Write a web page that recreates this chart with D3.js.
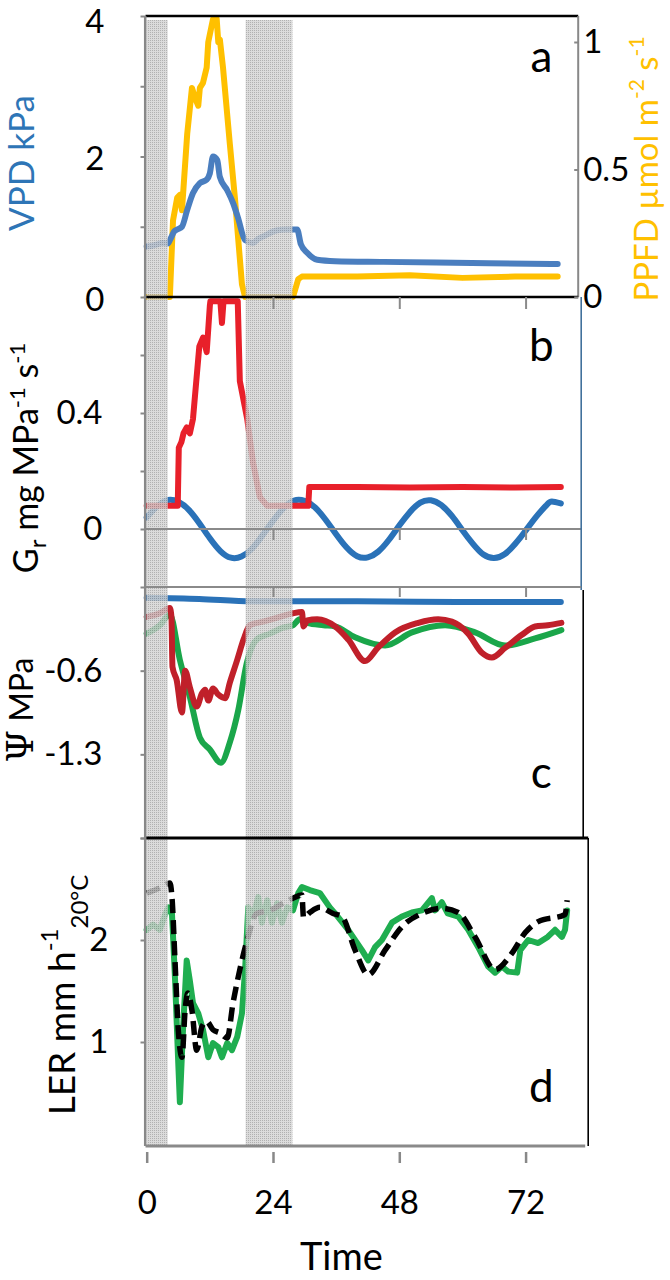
<!DOCTYPE html>
<html><head><meta charset="utf-8">
<script src="https://cdn.jsdelivr.net/npm/d3@7"></script>
<style>body{margin:0;background:#fff}svg{display:block}</style>
</head><body><svg id="c" width="670" height="1280"></svg>
<script>
// ---------- data ----------
const timeTicks = [0, 24, 48, 72];
const nightBands = [[0, 4], [18.8, 27.7]];
const vpdTicks = [0, 1, 2, 3, 4], vpdLabels = [0, 2, 4];
const ppfdTicks = [0, 0.5, 1];
const grTicks = [0, 0.2, 0.4, 0.6], grLabels = [0, 0.4];
const psiTicks = [0.1, -0.6, -1.3, -2.0], psiLabels = [-0.6, -1.3];
const lerTicks = [1, 2, 3], lerLabels = [1, 2];

// panel a: VPD (kPa) and PPFD
const vpd = [[0,0.72],[1,0.73],[2,0.75],[3,0.77],[4,0.76],[4.6,0.84],[5.2,0.93],[5.8,0.96],[6.7,1.0],[7.7,1.24],[8.8,1.48],[10.1,1.62],[11.4,1.67],[12.0,1.76],[12.6,2.0],[13.4,1.95],[13.9,1.71],[15.3,1.52],[16.4,1.34],[17.3,1.14],[18.7,0.81],[20.2,0.77],[21.2,0.83],[22.1,0.86],[24.8,0.95],[26.5,0.96],[28.6,0.96],[29.3,0.75],[30.5,0.63],[32.4,0.53],[35.8,0.51],[45,0.5],[55,0.49],[65,0.48],[78.1,0.47]];
const ppfd = [[0,0],[4.4,0],[5.0,0.3],[5.8,0.39],[6.3,0.4],[6.7,0.34],[7.7,0.64],[8.6,0.82],[9.2,0.78],[9.8,0.75],[10.1,0.82],[10.7,0.84],[11.4,0.9],[11.7,1.0],[12.0,1.03],[12.6,1.09],[13.3,1.09],[13.6,1.0],[13.9,1.01],[14.5,0.9],[15.8,0.6],[16.8,0.38],[17.3,0.25],[18.1,0.05],[18.7,0],[27.8,0],[28.8,0.07],[29.5,0.08],[40,0.08],[50,0.085],[60,0.075],[70,0.08],[78.1,0.08]];

// panel b: Gr
const grRed = [[0,0.08],[5.9,0.08],[6.1,0.28],[6.6,0.3],[7.0,0.33],[7.6,0.35],[8.2,0.33],[8.8,0.38],[10.0,0.63],[10.7,0.66],[11.4,0.61],[12.0,0.77],[12.1,0.785],[14.0,0.785],[14.3,0.71],[14.6,0.785],[17.3,0.785],[17.7,0.51],[19.1,0.38],[20.2,0.23],[21.5,0.11],[22.9,0.08],[30.7,0.08],[30.9,0.145],[40,0.145],[50,0.143],[60,0.145],[70,0.143],[78.7,0.145]];
const grBlue = [[0,0.04],[2,0.078],[4,0.1],[6,0.094],[8,0.066],[10,0.02],[12,-0.032],[14,-0.076],[16,-0.099],[18,-0.095],[20,-0.068],[22,-0.022],[24,0.028],[26,0.072],[28,0.098],[30,0.097],[32,0.074],[34,0.032],[36,-0.018],[38,-0.064],[40,-0.094],[42,-0.098],[44,-0.078],[46,-0.038],[48,0.012],[50,0.058],[52,0.091],[54,0.099],[56,0.082],[58,0.045],[60,-0.004],[62,-0.051],[64,-0.088],[66,-0.1],[68,-0.087],[70,-0.052],[72,-0.006],[74,0.042],[76,0.083],[77,0.095],[78.7,0.088]];

// panel c: Psi (MPa)
const psiBlue = [[0,0.01],[10,0.0],[20,-0.02],[40,-0.02],[60,-0.025],[78.7,-0.025]];
const psiRed = [[0,-0.15],[2.5,-0.12],[4.4,-0.076],[4.7,-0.15],[4.9,-0.57],[5.7,-0.68],[6.7,-0.95],[7.3,-0.6],[8.2,-0.74],[9.5,-0.9],[10.5,-0.79],[11.1,-0.76],[11.7,-0.85],[12.6,-0.75],[13.6,-0.8],[14.9,-0.83],[15.8,-0.7],[17.2,-0.51],[18.4,-0.34],[19.6,-0.22],[22.1,-0.19],[25.3,-0.15],[27.8,-0.12],[29.5,-0.11],[29.8,-0.23],[30.5,-0.18],[32.4,-0.17],[35.8,-0.23],[38.3,-0.34],[41.5,-0.52],[43.9,-0.41],[47.2,-0.28],[51.6,-0.2],[55.4,-0.17],[58,-0.19],[61.1,-0.29],[63.7,-0.45],[65.6,-0.49],[68.1,-0.41],[71.3,-0.3],[73.8,-0.23],[76.2,-0.22],[78.8,-0.2]];
const psiGreen = [[0,-0.29],[2.5,-0.22],[4.4,-0.13],[6.3,-0.51],[8.2,-0.82],[10.1,-1.16],[12,-1.26],[14.1,-1.37],[15.8,-1.2],[17.4,-0.93],[19.0,-0.54],[20.9,-0.34],[23.4,-0.29],[25.9,-0.24],[27.8,-0.22],[29.1,-0.17],[30.5,-0.2],[33.6,-0.22],[35.8,-0.23],[39.6,-0.32],[45.3,-0.39],[50.4,-0.28],[56.7,-0.22],[62.4,-0.28],[68.1,-0.39],[73.8,-0.33],[78.8,-0.26]];

// panel d: LER (mm h-1 at 20°C)
const lerModel = [[0,2.46],[2.5,2.51],[4.4,2.56],[4.8,2.42],[5.4,1.77],[6.0,1.12],[6.7,0.85],[7.3,1.31],[7.8,1.48],[8.6,1.31],[9.5,0.92],[10.5,1.15],[11.4,1.2],[12.6,1.12],[13.9,1.09],[15.3,1.04],[16.4,1.38],[17.7,1.71],[19.1,2.0],[20.9,2.26],[23.4,2.29],[25.9,2.36],[27.8,2.41],[29.5,2.44],[29.8,2.22],[31,2.27],[32.9,2.32],[35.4,2.26],[37.1,2.23],[39.6,1.9],[42.1,1.66],[45.3,1.9],[48.5,2.13],[52.3,2.26],[56.1,2.31],[59.2,2.27],[62.4,2.03],[66.2,1.71],[69.4,1.87],[71.9,2.07],[74.4,2.18],[79.5,2.25],[79.9,2.39]];
const lerObs = [[0,2.1],[1.2,2.15],[2.5,2.1],[3.5,2.25],[4.1,2.32],[4.8,2.26],[5.4,1.6],[6.0,0.79],[6.3,0.41],[6.9,1.12],[7.6,1.8],[8.2,1.6],[8.8,1.38],[9.8,1.28],[10.7,1.12],[11.7,0.85],[12.6,0.99],[13.6,0.95],[14.3,0.85],[15.3,0.99],[16.2,0.92],[17.2,1.05],[18.1,1.28],[18.7,1.71],[19.3,2.32],[20.2,2.23],[21.2,2.42],[21.9,2.17],[22.9,2.39],[23.8,2.17],[24.8,2.36],[25.7,2.17],[26.7,2.32],[27.8,2.29],[28.8,2.46],[29.5,2.52],[31,2.49],[32.9,2.46],[34.8,2.32],[35.8,2.26],[38.3,2.1],[40.9,1.9],[42.1,1.8],[43.4,1.93],[44.7,2.0],[46.6,2.17],[48.5,2.23],[50.4,2.27],[52.3,2.29],[54.2,2.41],[54.8,2.29],[56.1,2.37],[57.2,2.26],[59.2,2.23],[61.1,2.1],[63,1.93],[64.9,1.74],[66.2,1.68],[67.5,1.74],[68.7,1.69],[70.4,1.68],[71,1.9],[72.5,2.0],[74.4,1.97],[76.2,2.03],[77.6,2.1],[78.9,2.03],[79.5,2.1],[79.9,2.29]];

// ---------- drawing ----------
const FONT = "Lato, 'Open Sans', sans-serif";
const svg = d3.select("#c");
const x = d3.scaleLinear().domain([0, 82]).range([146.7, 578.2]);
const yA = d3.scaleLinear().domain([0, 4]).range([297, 16]);
const yA2 = d3.scaleLinear().domain([0, 1.1]).range([297, 16.5]);
const yB = d3.scaleLinear().domain([-0.2, 0.8]).range([587, 297]);
const yC = d3.scaleLinear().domain([-2.0, 0.1]).range([838, 587]);
const yD = d3.scaleLinear().domain([0, 3]).range([1144, 838]);
const x0 = x.range()[0] - 1.2, x1 = x.range()[1];
const yTop = yA.range()[1], yBot = yD.range()[0] + 2;
const hyph = f => d => f(d).replace("\u2212", "-");

const defs = svg.append("defs");
const pat = defs.append("pattern").attr("id", "dots").attr("width", 2).attr("height", 2).attr("patternUnits", "userSpaceOnUse");
pat.append("rect").attr("width", 2).attr("height", 2).attr("fill", "#d4d4d4");
pat.append("rect").attr("width", 1).attr("height", 1).attr("fill", "#a0a0a0");

const frame = svg.append("g");
function hline(y, xa, xb, color, w) { frame.append("line").attr("x1", xa).attr("x2", xb).attr("y1", y).attr("y2", y).attr("stroke", color).attr("stroke-width", w); }
function vline(xx, ya, yb, color, w) { frame.append("line").attr("x1", xx).attr("x2", xx).attr("y1", ya).attr("y2", yb).attr("stroke", color).attr("stroke-width", w); }

// panel frames
hline(yA(4), x0, x1, "#000", 2.5);
vline(x1, yA(4), yA(0), "#888", 2);
hline(yA(0), x0, x1, "#000", 2.5);
hline(yB(0), x0, x1 + 3, "#8a8a8a", 2);
vline(x1 + 3, yA(0), yC(0.1) + 3, "#41719c", 1.6);
hline(yC(0.1), x0, x1 + 3, "#8a8a8a", 2);
vline(x1 + 5, yC(0.1) + 3, yC(-2.0), "#000", 1.6);
hline(yC(-2.0), x0, x1 + 10, "#000", 3);
vline(x1 + 10, yC(-2.0), yD(0) + 2, "#000", 1.6);
hline(yD(0) + 2, x0, x1 + 7, "#8a8a8a", 3);

// internal time ticks
function innerTicks(y, len) {
  const g = frame.append("g").attr("transform", `translate(0,${y})`)
    .call(d3.axisBottom(x).tickValues([24, 48, 72]).tickSize(len).tickFormat(""));
  g.select(".domain").remove();
  g.selectAll("line").attr("stroke", "#8a8a8a").attr("stroke-width", 2);
}
innerTicks(yA(0), 12);
innerTicks(yB(0), 11);
innerTicks(yC(0.1), 10);

// data lines
const lines = svg.append("g").attr("fill", "none").attr("stroke-linejoin", "round").attr("stroke-linecap", "round");
function draw(data, ys, color, opts = {}) {
  const gen = d3.line().x(d => x(d[0])).y(d => ys(d[1])).curve(opts.curve || d3.curveMonotoneX);
  const p = lines.append("path").attr("d", gen(data)).attr("stroke", color).attr("stroke-width", opts.w || 6);
  if (opts.dash) p.attr("stroke-dasharray", opts.dash).attr("stroke-linecap", "butt");
}
draw(ppfd, yA2, "#ffc000", { curve: d3.curveLinear });
draw(vpd, yA, "#4a7ebf");
draw(grBlue, yB, "#2a72b8", { curve: d3.curveNatural });
draw(grRed, yB, "#e8202a", { curve: d3.curveLinear });
draw(psiBlue, yC, "#2a72b8");
draw(psiGreen, yC, "#1aa64a");
draw(psiRed, yC, "#c0202a");
draw(lerObs, yD, "#1fae50", { curve: d3.curveLinear });
draw(lerModel, yD, "#000", { dash: "14,7", w: 5.5 });

// night shading on top
svg.append("g").attr("opacity", 0.82).selectAll("rect").data(nightBands).join("rect")
  .attr("x", d => x(d[0])).attr("width", d => x(d[1]) - x(d[0]))
  .attr("y", yTop + 4).attr("height", yBot - yTop - 4)
  .attr("fill", "url(#dots)");

// left axis line
vline(x0 - 0.3, yTop, yBot, "#888", 2.5);
svg.node().appendChild(frame.node());

// left axes
function leftAxis(scale, ticks, labels, fmt, pad) {
  const g = svg.append("g").attr("transform", `translate(${x0},0)`)
    .call(d3.axisLeft(scale).tickValues(ticks).tickSize(5).tickPadding(pad)
      .tickFormat(d => labels.some(l => Math.abs(l - d) < 1e-9) ? fmt(d) : ""));
  g.select(".domain").remove();
  g.selectAll("line").attr("stroke", "#888").attr("stroke-width", 2);
  g.selectAll("text").attr("font-family", FONT).attr("font-size", 33).attr("fill", "#000");
  return g;
}
leftAxis(yA, vpdTicks, vpdLabels, d3.format("d"), 36).selectAll("text").attr("dy", d => d === 4 ? "0.5em" : "0.4em");
leftAxis(yB, grTicks, grLabels, d => d === 0 ? "0" : d3.format(".1f")(d), 38);
leftAxis(yC, psiTicks, psiLabels, hyph(d3.format(".1f")), 38);
leftAxis(yD, lerTicks, lerLabels, d3.format("d"), 32);

// right axis panel a
const ra = svg.append("g").attr("transform", `translate(${x1},0)`)
  .call(d3.axisRight(yA2).tickValues(ppfdTicks).tickSize(-4).tickPadding(5).tickFormat(d => d === 0.5 ? "0.5" : d3.format("d")(d)));
ra.select(".domain").remove();
ra.selectAll("line").attr("stroke", "#888").attr("stroke-width", 2);
ra.selectAll("text").attr("font-family", FONT).attr("font-size", 33).attr("fill", "#000");

// bottom time axis
const xa = svg.append("g").attr("transform", `translate(0,${yD(0) + 8})`)
  .call(d3.axisBottom(x).tickValues(timeTicks).tickSize(11).tickPadding(28));
xa.select(".domain").remove();
xa.selectAll("line").attr("stroke", "#888").attr("stroke-width", 2.5);
xa.selectAll("text").attr("font-family", FONT).attr("font-size", 33).attr("fill", "#000");

svg.append("text").attr("x", x(37)).attr("y", 1270).attr("text-anchor", "middle")
  .attr("font-family", FONT).attr("font-size", 38).text("Time");

// panel letters
const letters = [["a", yA(3.2)], ["b", yB(0.58)], ["c", yC(-1.58)], ["d", yD(0.41)]];
svg.selectAll("text.letter").data(letters).join("text").attr("class", "letter")
  .attr("x", x(75)).attr("y", d => d[1]).attr("text-anchor", "middle")
  .attr("font-family", FONT).attr("font-size", 44).text(d => d[0]);

// rotated axis titles
function rot(xx, yy, color) {
  return svg.append("text").attr("transform", `translate(${xx},${yy}) rotate(-90)`)
    .attr("text-anchor", "middle").attr("font-family", FONT).attr("fill", color);
}
rot(34, 163, "#2e75b6").attr("font-size", 35).text("VPD kPa");

const pp = rot(658, 169, "#ffc000").attr("font-size", 33);
pp.append("tspan").text("PPFD µmol m");
pp.append("tspan").attr("font-size", 21).attr("dy", -14).text("-2");
pp.append("tspan").attr("dy", 14).text(" s");
pp.append("tspan").attr("font-size", 21).attr("dy", -14).text("-1");

const gr = rot(38, 458, "#000").attr("font-size", 34);
gr.append("tspan").text("G");
gr.append("tspan").attr("font-size", 24).attr("dy", 8).text("r");
gr.append("tspan").attr("dy", -8).text(" mg MPa");
gr.append("tspan").attr("font-size", 22).attr("dy", -13).text("-1");
gr.append("tspan").attr("dy", 13).text(" s");
gr.append("tspan").attr("font-size", 22).attr("dy", -13).text("-1");

const ps = rot(33, 710, "#000").attr("font-size", 32);
ps.append("tspan").attr("font-family", "'DejaVu Serif', 'Liberation Serif', serif").attr("font-size", 37).text("Ψ");
ps.append("tspan").text(" MPa");

const le = rot(75, 995, "#000").attr("font-size", 37);
le.append("tspan").text("LER mm h");
le.append("tspan").attr("font-size", 24).attr("dy", -17).text("-1");
le.append("tspan").attr("font-size", 24).attr("dy", 30).text("20°C");
</script>
</body></html>
